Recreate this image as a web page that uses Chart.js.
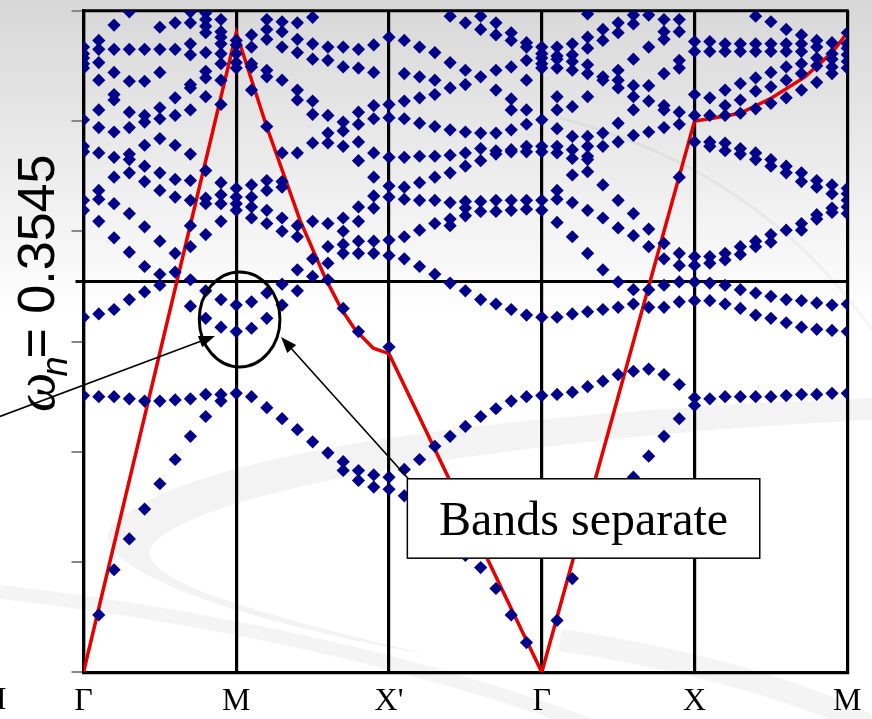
<!DOCTYPE html>
<html>
<head>
<meta charset="utf-8">
<script src="https://cdn.jsdelivr.net/npm/chart.js@4.4.1/dist/chart.umd.min.js"></script>
<style>
  html, body { margin: 0; padding: 0; background: #fff; }
  canvas { display: block; }
</style>
</head>
<body>
<canvas id="bands" width="872" height="719"></canvas>
<script>
// High-symmetry points along the k-path
const kLabels = ['Γ', 'M', "X'", 'Γ', 'X', 'M'];
const stepsPerSegment = 10;

// Normalised frequency of the marked horizontal level
const omegaN = 0.3545;

// Band frequencies, one list per k-point, for each path segment
const segGammaM = [
  [0.567, 0.561, 0.557, 0.552, 0.548, 0.501, 0.477, 0.472, 0.428, 0.419, 0.322, 0.251],
  [0.573, 0.565, 0.553, 0.537, 0.510, 0.494, 0.471, 0.437, 0.429, 0.409, 0.325, 0.250, 0.052],
  [0.587, 0.565, 0.544, 0.524, 0.519, 0.490, 0.467, 0.449, 0.425, 0.394, 0.329, 0.250, 0.093],
  [0.599, 0.565, 0.536, 0.508, 0.494, 0.470, 0.465, 0.453, 0.416, 0.381, 0.338, 0.248, 0.121],
  [0.565, 0.536, 0.505, 0.499, 0.478, 0.459, 0.445, 0.404, 0.368, 0.345, 0.246, 0.148],
  [0.585, 0.565, 0.544, 0.512, 0.502, 0.484, 0.453, 0.437, 0.391, 0.361, 0.351, 0.246, 0.171],
  [0.589, 0.565, 0.521, 0.505, 0.478, 0.447, 0.431, 0.380, 0.363, 0.247, 0.193],
  [0.599, 0.589, 0.570, 0.560, 0.533, 0.530, 0.510, 0.470, 0.446, 0.428, 0.405, 0.386, 0.356, 0.332, 0.248, 0.214],
  [0.598, 0.592, 0.586, 0.580, 0.562, 0.545, 0.539, 0.522, 0.455, 0.430, 0.425, 0.397, 0.346, 0.321, 0.252, 0.232],
  [0.592, 0.581, 0.576, 0.570, 0.561, 0.552, 0.537, 0.515, 0.444, 0.433, 0.425, 0.409, 0.338, 0.313, 0.252, 0.246]
];
const segMXp = [
  [0.573, 0.569, 0.561, 0.553, 0.548, 0.439, 0.431, 0.425, 0.419, 0.333, 0.309, 0.253],
  [0.578, 0.567, 0.552, 0.549, 0.528, 0.442, 0.431, 0.422, 0.412, 0.336, 0.312, 0.250],
  [0.592, 0.583, 0.574, 0.546, 0.540, 0.495, 0.446, 0.437, 0.419, 0.407, 0.344, 0.321, 0.240],
  [0.590, 0.581, 0.567, 0.537, 0.471, 0.445, 0.440, 0.412, 0.400, 0.352, 0.333, 0.230],
  [0.589, 0.574, 0.562, 0.528, 0.519, 0.471, 0.405, 0.395, 0.365, 0.346, 0.220],
  [0.594, 0.570, 0.556, 0.518, 0.506, 0.480, 0.409, 0.375, 0.359, 0.209],
  [0.567, 0.555, 0.505, 0.489, 0.480, 0.407, 0.386, 0.371, 0.356, 0.199],
  [0.567, 0.549, 0.499, 0.491, 0.477, 0.412, 0.400, 0.388, 0.380, 0.330, 0.191, 0.183],
  [0.565, 0.548, 0.508, 0.497, 0.481, 0.464, 0.422, 0.409, 0.391, 0.380, 0.309, 0.183, 0.174],
  [0.569, 0.544, 0.514, 0.502, 0.471, 0.449, 0.432, 0.421, 0.391, 0.380, 0.179, 0.168]
];
const segXpGamma = [
  [0.576, 0.515, 0.503, 0.467, 0.441, 0.431, 0.392, 0.378, 0.295, 0.177, 0.166],
  [0.573, 0.543, 0.518, 0.502, 0.467, 0.440, 0.429, 0.395, 0.375, 0.184, 0.160],
  [0.567, 0.540, 0.521, 0.498, 0.468, 0.444, 0.428, 0.401, 0.368, 0.193, 0.149],
  [0.562, 0.537, 0.524, 0.495, 0.468, 0.449, 0.428, 0.407, 0.361, 0.205, 0.137],
  [0.595, 0.553, 0.530, 0.492, 0.469, 0.453, 0.426, 0.411, 0.405, 0.353, 0.214, 0.122],
  [0.589, 0.546, 0.533, 0.490, 0.471, 0.459, 0.427, 0.421, 0.414, 0.346, 0.223, 0.106],
  [0.595, 0.583, 0.540, 0.489, 0.475, 0.464, 0.427, 0.418, 0.338, 0.232, 0.095],
  [0.589, 0.578, 0.546, 0.528, 0.489, 0.473, 0.470, 0.428, 0.418, 0.334, 0.239, 0.076],
  [0.580, 0.573, 0.549, 0.520, 0.510, 0.492, 0.474, 0.472, 0.428, 0.419, 0.329, 0.246, 0.052],
  [0.571, 0.567, 0.555, 0.537, 0.510, 0.497, 0.477, 0.472, 0.428, 0.420, 0.324, 0.250, 0.027]
];
const segGammaX = [
  [0.567, 0.561, 0.557, 0.552, 0.548, 0.501, 0.477, 0.472, 0.428, 0.419, 0.322, 0.251],
  [0.567, 0.559, 0.556, 0.548, 0.522, 0.510, 0.493, 0.477, 0.471, 0.437, 0.429, 0.408, 0.322, 0.252, 0.047],
  [0.570, 0.560, 0.554, 0.546, 0.513, 0.486, 0.474, 0.466, 0.451, 0.426, 0.395, 0.325, 0.254, 0.085],
  [0.597, 0.576, 0.566, 0.551, 0.543, 0.522, 0.486, 0.477, 0.468, 0.465, 0.454, 0.419, 0.380, 0.327, 0.259, 0.115],
  [0.583, 0.573, 0.540, 0.537, 0.489, 0.477, 0.442, 0.412, 0.365, 0.329, 0.264, 0.138],
  [0.589, 0.580, 0.546, 0.537, 0.530, 0.498, 0.481, 0.428, 0.403, 0.354, 0.331, 0.270, 0.159],
  [0.596, 0.588, 0.556, 0.532, 0.522, 0.510, 0.487, 0.416, 0.396, 0.347, 0.334, 0.273, 0.177],
  [0.596, 0.567, 0.532, 0.518, 0.490, 0.402, 0.386, 0.347, 0.331, 0.275, 0.196],
  [0.592, 0.581, 0.574, 0.543, 0.514, 0.510, 0.494, 0.389, 0.375, 0.351, 0.331, 0.270, 0.214],
  [0.592, 0.581, 0.555, 0.548, 0.508, 0.497, 0.449, 0.380, 0.369, 0.354, 0.336, 0.261, 0.230]
];
const segXM = [
  [0.572, 0.563, 0.524, 0.505, 0.481, 0.377, 0.369, 0.354, 0.337, 0.249, 0.242],
  [0.572, 0.563, 0.521, 0.505, 0.481, 0.477, 0.377, 0.371, 0.353, 0.337, 0.248],
  [0.570, 0.563, 0.528, 0.514, 0.505, 0.480, 0.473, 0.380, 0.374, 0.351, 0.334, 0.250],
  [0.570, 0.563, 0.534, 0.519, 0.507, 0.475, 0.470, 0.386, 0.379, 0.347, 0.330, 0.250],
  [0.595, 0.570, 0.563, 0.539, 0.527, 0.511, 0.471, 0.465, 0.391, 0.386, 0.344, 0.324, 0.250],
  [0.590, 0.570, 0.563, 0.544, 0.531, 0.516, 0.465, 0.459, 0.397, 0.390, 0.341, 0.321, 0.250],
  [0.583, 0.570, 0.563, 0.549, 0.537, 0.521, 0.459, 0.453, 0.401, 0.338, 0.317, 0.251],
  [0.578, 0.570, 0.563, 0.552, 0.543, 0.528, 0.453, 0.445, 0.407, 0.401, 0.337, 0.313, 0.252],
  [0.573, 0.567, 0.557, 0.550, 0.535, 0.446, 0.440, 0.415, 0.411, 0.335, 0.311, 0.252],
  [0.571, 0.561, 0.556, 0.549, 0.543, 0.442, 0.434, 0.421, 0.417, 0.333, 0.310, 0.253],
  [0.580, 0.570, 0.566, 0.560, 0.554, 0.548, 0.439, 0.434, 0.428, 0.422, 0.416, 0.334, 0.309, 0.253]
];

// Light line (red) along the same path
const lightK = [0, 1, 1.199, 1.417, 1.581, 1.690, 1.777, 1.897, 2, 3, 4, 4.099, 4.298, 4.507, 4.723, 4.900, 5];
const lightW = [0, 0.580, 0.495, 0.410, 0.358, 0.329, 0.311, 0.294, 0.289, 0, 0.500, 0.502, 0.507, 0.521, 0.540, 0.562, 0.580];

// Callout geometry, in (k, ω) units
const ringCenter = { k: 1.022, w: 0.320 };
const ringRadius = { k: 0.264, w: 0.0431 };
const arrowLeft = { from: { k: -0.547, w: 0.232 }, to: { k: 0.861, w: 0.305 } };
const arrowBox = { from: { k: 2.137, w: 0.174 }, to: { k: 1.293, w: 0.304 } };
const noteBox = { k0: 2.120, k1: 4.427, w0: 0.1755, w1: 0.1035, text: 'Bands separate' };

function bandPoints() {
  const segments = [segGammaM, segMXp, segXpGamma, segGammaX, segXM];
  const pts = [];
  segments.forEach((seg, s) => {
    seg.forEach((col, j) => {
      const k = s + j / stepsPerSegment;
      col.forEach(w => pts.push({ x: k, y: w }));
    });
  });
  return pts;
}

const backdrop = {
  id: 'backdrop',
  beforeDraw(chart) {
    const { ctx, width, height } = chart;
    ctx.save();
    const g = ctx.createLinearGradient(0, 0, 0, 320);
    g.addColorStop(0, '#d7d7d7');
    g.addColorStop(1, '#ffffff');
    ctx.fillStyle = g;
    ctx.fillRect(0, 0, width, height);

    // faint swirl shapes in the lower half
    ctx.fillStyle = 'rgba(0,0,0,0.048)';
    ctx.beginPath();
    ctx.moveTo(872, 398);
    ctx.bezierCurveTo(600, 408, 190, 440, 110, 528);
    ctx.bezierCurveTo(92, 560, 190, 612, 430, 655);
    ctx.bezierCurveTo(250, 612, 140, 580, 150, 548);
    ctx.bezierCurveTo(200, 480, 600, 432, 872, 420);
    ctx.closePath();
    ctx.fill();

    ctx.strokeStyle = 'rgba(0,0,0,0.045)';
    ctx.lineWidth = 14;
    ctx.beginPath();
    ctx.moveTo(0, 592);
    ctx.quadraticCurveTo(330, 630, 590, 725);
    ctx.stroke();

    ctx.lineWidth = 22;
    ctx.beginPath();
    ctx.moveTo(560, 640);
    ctx.quadraticCurveTo(760, 670, 880, 730);
    ctx.stroke();

    ctx.lineWidth = 3;
    ctx.strokeStyle = 'rgba(0,0,0,0.04)';
    ctx.beginPath();
    ctx.moveTo(560, 118);
    ctx.quadraticCurveTo(760, 170, 872, 330);
    ctx.stroke();
    ctx.restore();
  }
};

const framing = {
  id: 'framing',
  beforeDatasetsDraw(chart) {
    const { ctx, chartArea: a, scales } = chart;
    ctx.save();
    ctx.strokeStyle = '#000';
    ctx.lineWidth = 3;
    ctx.beginPath();
    ctx.moveTo(a.left - 1.5, a.top);
    ctx.lineTo(a.right + 1.5, a.top);
    ctx.stroke();
    const yN = scales.y.getPixelForValue(omegaN);
    ctx.beginPath();
    ctx.moveTo(a.left - 8, yN);
    ctx.lineTo(a.right, yN);
    ctx.stroke();
    ctx.restore();
  }
};

function arrow(ctx, x0, y0, x1, y1) {
  const ang = Math.atan2(y1 - y0, x1 - x0);
  const len = 16, half = 6;
  const bx = x1 - len * Math.cos(ang), by = y1 - len * Math.sin(ang);
  ctx.beginPath();
  ctx.moveTo(x0, y0);
  ctx.lineTo(bx, by);
  ctx.stroke();
  ctx.beginPath();
  ctx.moveTo(x1, y1);
  ctx.lineTo(bx + half * Math.sin(ang), by - half * Math.cos(ang));
  ctx.lineTo(bx - half * Math.sin(ang), by + half * Math.cos(ang));
  ctx.closePath();
  ctx.fill();
}

const callouts = {
  id: 'callouts',
  afterDatasetsDraw(chart) {
    const { ctx, chartArea: a, scales: { x, y } } = chart;
    const px = k => x.getPixelForValue(k);
    const py = w => y.getPixelForValue(w);
    ctx.save();
    ctx.strokeStyle = '#000';
    ctx.fillStyle = '#000';

    // ring around the split bands at M
    ctx.lineWidth = 3;
    ctx.beginPath();
    ctx.ellipse(px(ringCenter.k), py(ringCenter.w),
      px(ringCenter.k + ringRadius.k) - px(ringCenter.k),
      py(ringCenter.w - ringRadius.w) - py(ringCenter.w), 0, 0, Math.PI * 2);
    ctx.stroke();

    ctx.lineWidth = 1.6;
    arrow(ctx, px(arrowLeft.from.k), py(arrowLeft.from.w), px(arrowLeft.to.k), py(arrowLeft.to.w));
    arrow(ctx, px(arrowBox.from.k), py(arrowBox.from.w), px(arrowBox.to.k), py(arrowBox.to.w));

    // note box
    const bx0 = px(noteBox.k0), bx1 = px(noteBox.k1);
    const by0 = py(noteBox.w0), by1 = py(noteBox.w1);
    ctx.fillStyle = '#fff';
    ctx.fillRect(bx0, by0, bx1 - bx0, by1 - by0);
    ctx.lineWidth = 1.5;
    ctx.strokeRect(bx0, by0, bx1 - bx0, by1 - by0);
    ctx.fillStyle = '#000';
    ctx.font = '48px "Liberation Serif"';
    ctx.textAlign = 'center';
    ctx.textBaseline = 'alphabetic';
    ctx.fillText(noteBox.text, (bx0 + bx1) / 2, by0 + 56.5);

    // vertical axis title
    ctx.save();
    ctx.translate(a.left - 30, 412);
    ctx.rotate(-Math.PI / 2);
    ctx.textAlign = 'left';
    ctx.font = 'italic 56px "Liberation Serif"';
    ctx.fillText('ω', 0, 0);
    let t = ctx.measureText('ω').width;
    ctx.font = 'italic 36px "Liberation Sans"';
    ctx.fillText('n', t - 4, 13);
    t += ctx.measureText('n').width - 6;
    ctx.font = '52px "Liberation Sans"';
    ctx.fillText('= 0.3545', t, 0);
    ctx.restore();

    // clipped label at the left edge
    ctx.font = '32px "Liberation Serif"';
    ctx.textAlign = 'left';
    ctx.fillText('I', -4, 709);
    ctx.restore();
  }
};

new Chart(document.getElementById('bands'), {
  type: 'scatter',
  data: {
    datasets: [
      {
        label: 'bands',
        data: bandPoints(),
        pointStyle: 'rectRot',
        pointRadius: 6.6,
        pointHoverRadius: 6.6,
        backgroundColor: '#00008a',
        borderColor: '#00008a',
        borderWidth: 0,
        order: 0
      },
      {
        type: 'line',
        label: 'light line',
        data: lightK.map((k, i) => ({ x: k, y: lightW[i] })),
        borderColor: '#e60000',
        borderWidth: 3.5,
        pointRadius: 0,
        fill: false,
        tension: 0,
        order: 1
      }
    ]
  },
  options: {
    responsive: false,
    animation: false,
    devicePixelRatio: 1,
    layout: { padding: { top: 10.7, right: 24.7, left: 0, bottom: 0 } },
    plugins: { legend: { display: false }, tooltip: { enabled: false } },
    scales: {
      x: {
        type: 'linear',
        min: 0,
        max: 5,
        afterFit: s => { s.height = 46.7; },
        ticks: {
          stepSize: 1,
          autoSkip: false,
          maxRotation: 0,
          color: '#000',
          padding: 10,
          font: { family: 'Liberation Serif', size: 32 },
          callback: v => kLabels[v] ?? ''
        },
        grid: { color: '#000', lineWidth: 3.2, drawTicks: false },
        border: { color: '#000', width: 3.2 }
      },
      y: {
        min: 0,
        max: 0.6,
        afterFit: s => { s.width = 83.5; },
        ticks: { stepSize: 0.1, display: false },
        grid: { drawOnChartArea: false, drawTicks: true, tickLength: 12, color: '#888', lineWidth: 2 },
        border: { color: '#000', width: 3.2 }
      }
    }
  },
  plugins: [backdrop, framing, callouts]
});
</script>
</body>
</html>
